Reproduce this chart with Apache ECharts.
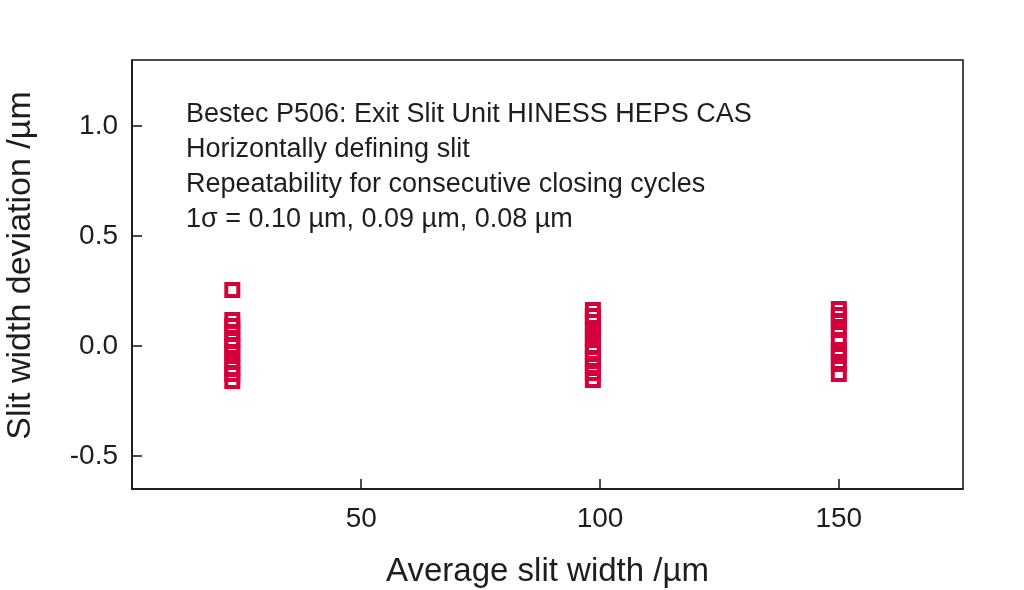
<!DOCTYPE html>
<html>
<head>
<meta charset="utf-8">
<script src="https://cdn.jsdelivr.net/npm/echarts@6/dist/echarts.min.js"></script>
<style>
html,body{margin:0;padding:0;background:#fff;}
#c{width:1024px;height:590px;}
</style>
</head>
<body>
<div id="c"></div>
<script>
// Data
const groupX = [23, 98.5, 150];
const group1 = [0.255, 0.118, 0.091, 0.059, 0.027, 0.0, -0.032, -0.068, -0.1, -0.127, -0.159];
const group2 = [0.164, 0.136, 0.109, 0.073, 0.036, 0.0, -0.027, -0.059, -0.091, -0.123, -0.155];
const group3 = [0.168, 0.141, 0.109, 0.073, 0.027, -0.018, -0.045, -0.082, -0.127];
const xTicks = [50, 100, 150];
const yTicks = [-0.5, 0.0, 0.5, 1.0];
const annotation = [
  'Bestec P506: Exit Slit Unit HINESS HEPS CAS',
  'Horizontally defining slit',
  'Repeatability for consecutive closing cycles',
  '1\u03c3 = 0.10 \u00b5m, 0.09 \u00b5m, 0.08 \u00b5m'
];

const groups = [group1, group2, group3];
const points = [];
groups.forEach((g, i) => g.forEach(v => points.push([groupX[i], v])));

const font = 'Liberation Sans, Arial, sans-serif';
const red = '#d3003b';
const ink = '#1e1e1e';

const chart = echarts.init(document.getElementById('c'));
chart.setOption({
  backgroundColor: '#fff',
  animation: false,
  title: {
    text: annotation.join('\n'),
    left: 181,
    top: 92,
    textStyle: {fontFamily: font, fontSize: 27, fontWeight: 'normal', color: ink, lineHeight: 35}
  },
  grid: {left: 132, right: 61, top: 60, bottom: 101, outerBoundsMode: 'none', containLabel: false,
    show: true, borderColor: '#111', borderWidth: 1.5, backgroundColor: 'transparent'},
  xAxis: {
    type: 'value', min: 2, max: 176,
    name: 'Average slit width /\u00b5m', nameLocation: 'middle', nameGap: 66,
    nameTextStyle: {fontFamily: font, fontSize: 33, color: ink},
    axisLine: {show: true, onZero: false, lineStyle: {color: '#111', width: 1.5}},
    axisTick: {show: true, inside: true, length: 10, customValues: xTicks, lineStyle: {color: '#111', width: 1.5}},
    axisLabel: {customValues: xTicks, fontFamily: font, fontSize: 28, color: ink, margin: 16},
    splitLine: {show: false}
  },
  yAxis: {
    type: 'value', min: -0.65, max: 1.3,
    name: 'Slit width deviation /\u00b5m', nameLocation: 'middle', nameGap: 94, nameRotate: 90,
    nameTextStyle: {fontFamily: font, fontSize: 34, color: ink, padding: [0, 0, 0, 18]},
    axisLine: {show: true, onZero: false, lineStyle: {color: '#111', width: 1.5}},
    axisTick: {show: true, inside: true, length: 10, customValues: yTicks, lineStyle: {color: '#111', width: 1.5}},
    axisLabel: {customValues: yTicks, fontFamily: font, fontSize: 28, color: ink, margin: 14,
      formatter: v => v.toFixed(1)},
    splitLine: {show: false}
  },
  series: [{
    type: 'scatter',
    data: points,
    symbol: 'rect',
    symbolSize: 12,
    itemStyle: {color: 'rgba(0,0,0,0)', borderColor: red, borderWidth: 4, opacity: 1},
    emphasis: {disabled: true}
  }]
});
</script>
</body>
</html>
